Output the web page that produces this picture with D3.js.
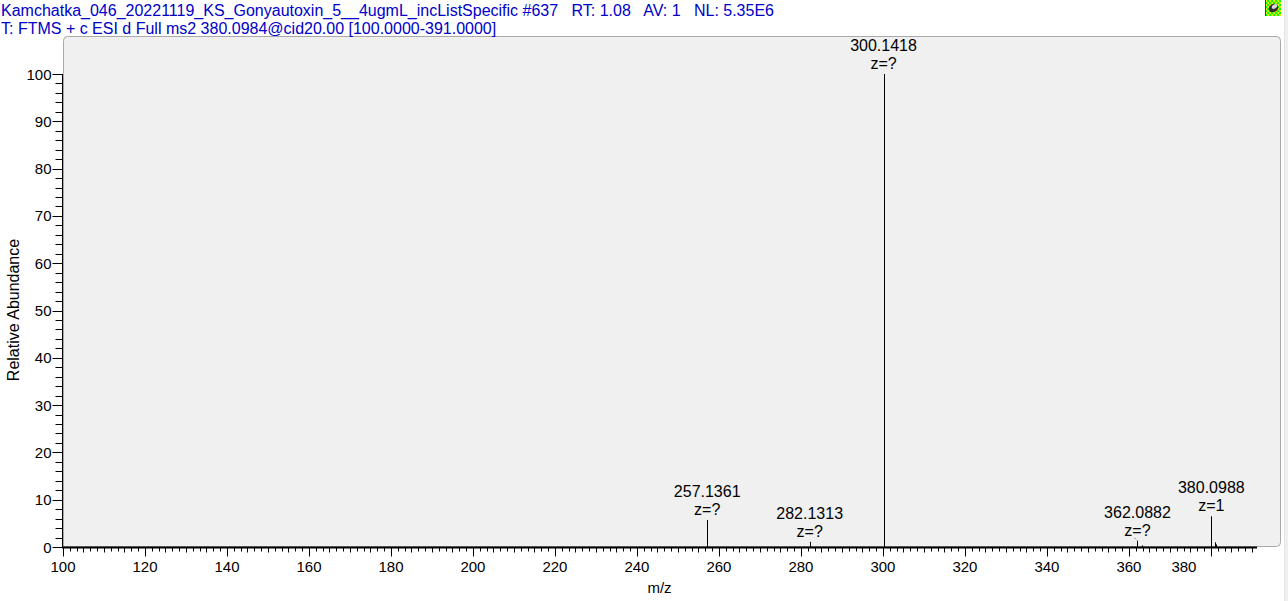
<!DOCTYPE html>
<html>
<head>
<meta charset="utf-8">
<script src="https://cdn.jsdelivr.net/npm/d3@7"></script>
<style>
  html, body { margin: 0; padding: 0; background: #ffffff; }
  svg { display: block; font-family: "Liberation Sans", Arial, sans-serif; }
</style>
</head>
<body>
<svg id="chart" width="1288" height="601"></svg>
<script>
// ---- data ----
const headerLines = [
  "Kamchatka_046_20221119_KS_Gonyautoxin_5__4ugmL_incListSpecific #637   RT: 1.08   AV: 1   NL: 5.35E6",
  "T: FTMS + c ESI d Full ms2 380.0984@cid20.00 [100.0000-391.0000]"
];
const peakMz = [257.1361, 282.1313, 300.1418, 362.0882, 380.0988];
const peakIntensity = [5.7, 1.1, 100, 1.3, 6.5];
const peakCharge = ["z=?", "z=?", "z=?", "z=?", "z=1"];
const minorMz = [363.09, 381.10, 381.30];
const minorIntensity = [0.35, 1.0, 0.55];
const xTickValues = [100, 120, 140, 160, 180, 200, 220, 240, 260, 280, 300, 320, 340, 360, 380];
const yTickValues = [0, 10, 20, 30, 40, 50, 60, 70, 80, 90, 100];
const xDomain = [100, 391];
const yDomain = [0, 100];
const xTitle = "m/z";
const yTitle = "Relative Abundance";

// ---- layout ----
const svg = d3.select("#chart");
const plotL = 63, plotR = 1256, plotT = 74, plotB = 547;
const x = d3.scaleLinear().domain(xDomain).range([plotL, plotR]);
const y = d3.scaleLinear().domain(yDomain).range([plotB, plotT]);
const ink = "#000000";

// right side strip
svg.append("rect").attr("x", 1284).attr("y", 0).attr("width", 4).attr("height", 601).attr("fill", "#f0f0f0");
svg.append("line").attr("x1", 1284.5).attr("x2", 1284.5).attr("y1", 0).attr("y2", 601).attr("stroke", "#e3e3e3");

// panel
svg.append("path")
  .attr("d", `M${plotL + 0.5},${plotB} L${plotL + 0.5},40.5 Q${plotL + 0.5},36.5 ${plotL + 4.5},36.5 L1276.5,36.5 Q1280.5,36.5 1280.5,40.5 L1280.5,542.5 Q1280.5,546.5 1276.5,546.5 L${plotL},546.5`)
  .attr("fill", "#f0f0f0").attr("stroke", "#a9a9a9").attr("stroke-width", 1);

// header
svg.selectAll("text.header").data(headerLines).join("text")
  .attr("class", "header")
  .attr("x", 1).attr("y", (d, i) => 16 + i * 17.5)
  .attr("fill", "#0000c8").attr("font-size", 16)
  .style("white-space", "pre")
  .text(d => d);

// icon
const icon = svg.append("g").attr("transform", "translate(1265,0)");
icon.append("rect").attr("x", 0).attr("y", 0).attr("width", 16).attr("height", 16).attr("fill", "#00ff00");
for (let i = 0; i < 8; i++) for (let j = 0; j < 8; j++) {
  if ((i + j) % 2 === 0) icon.append("rect").attr("x", i * 2).attr("y", j * 2).attr("width", 2).attr("height", 2).attr("fill", "#e8f000");
}
icon.append("line").attr("x1", 0.5).attr("x2", 0.5).attr("y1", 0).attr("y2", 16).attr("stroke", "#404040");
icon.append("ellipse").attr("cx", 8.5).attr("cy", 8).attr("rx", 5).attr("ry", 4)
  .attr("transform", "rotate(-30 8.5 8)").attr("fill", "#303030");
icon.append("ellipse").attr("cx", 9.5).attr("cy", 6.5).attr("rx", 3).attr("ry", 2)
  .attr("transform", "rotate(-30 9.5 6.5)").attr("fill", "#d8d8d8");

// y axis
const yMinor = d3.range(0, 100.001, 2);
const yAxis = svg.append("g").attr("transform", `translate(${plotL - 0.5},0)`);
yAxis.append("line").attr("x1", 0).attr("x2", 0).attr("y1", y(100)).attr("y2", plotB + 1).attr("stroke", ink);
yAxis.selectAll("line.minor").data(yMinor).join("line").attr("class", "minor")
  .attr("x1", -7).attr("x2", 0)
  .attr("y1", d => Math.round(y(d)) + 0.5).attr("y2", d => Math.round(y(d)) + 0.5)
  .attr("stroke", ink);
yAxis.selectAll("line.major").data(yTickValues).join("line").attr("class", "major")
  .attr("x1", -10).attr("x2", 0)
  .attr("y1", d => Math.round(y(d)) + 0.5).attr("y2", d => Math.round(y(d)) + 0.5)
  .attr("stroke", ink);
yAxis.selectAll("text").data(yTickValues).join("text")
  .attr("x", -11).attr("y", d => y(d) + 5.5)
  .attr("text-anchor", "end").attr("font-size", 15).attr("fill", ink)
  .text(d => d);

// x axis
const xMinor = d3.range(100, 391.2, 5 / 3);
const xMid = d3.range(100, 391.2, 5);
const xAxis = svg.append("g").attr("transform", `translate(0,${plotB + 0.5})`);
xAxis.append("line").attr("x1", plotL - 1).attr("x2", plotR + 1).attr("y1", 0).attr("y2", 0).attr("stroke", ink).attr("stroke-width", 2);
xAxis.selectAll("line.minor").data(xMinor).join("line").attr("class", "minor")
  .attr("x1", d => Math.round(x(d)) + 0.5).attr("x2", d => Math.round(x(d)) + 0.5)
  .attr("y1", 0).attr("y2", 4).attr("stroke", ink);
xAxis.selectAll("line.mid").data(xMid).join("line").attr("class", "mid")
  .attr("x1", d => Math.round(x(d)) + 0.5).attr("x2", d => Math.round(x(d)) + 0.5)
  .attr("y1", 0).attr("y2", 5).attr("stroke", ink);
xAxis.selectAll("line.major").data(xTickValues).join("line").attr("class", "major")
  .attr("x1", d => Math.round(x(d)) + 0.5).attr("x2", d => Math.round(x(d)) + 0.5)
  .attr("y1", 0).attr("y2", 9).attr("stroke", ink);
xAxis.selectAll("text").data(xTickValues).join("text")
  .attr("x", d => x(d) - (d === 380 ? 27 : 0)).attr("y", 24)
  .attr("text-anchor", "middle").attr("font-size", 15).attr("fill", ink)
  .text(d => d);

// axis titles
svg.append("text").attr("x", (plotL + plotR) / 2).attr("y", 593)
  .attr("text-anchor", "middle").attr("font-size", 15).attr("fill", ink).text(xTitle);
svg.append("text").attr("transform", "translate(19,310) rotate(-90)")
  .attr("text-anchor", "middle").attr("font-size", 16).attr("fill", ink).text(yTitle);

// minor peaks
svg.selectAll("line.minorpeak").data(minorMz).join("line").attr("class", "minorpeak")
  .attr("x1", d => Math.round(x(d)) + 0.5).attr("x2", d => Math.round(x(d)) + 0.5)
  .attr("y1", plotB).attr("y2", (d, i) => y(minorIntensity[i]))
  .attr("stroke", ink);

// main peaks
svg.selectAll("line.peak").data(peakMz).join("line").attr("class", "peak")
  .attr("x1", d => Math.round(x(d)) + 0.5).attr("x2", d => Math.round(x(d)) + 0.5)
  .attr("y1", plotB).attr("y2", (d, i) => y(peakIntensity[i]))
  .attr("stroke", ink);

// green marker near 362
svg.append("line")
  .attr("x1", x(peakMz[3]) - 3).attr("y1", y(peakIntensity[3]) - 3)
  .attr("x2", x(peakMz[3]) - 0.5).attr("y2", y(peakIntensity[3]) - 0.5)
  .attr("stroke", "#30b030").attr("stroke-dasharray", "1.5,1");

// peak labels
const lbl = svg.selectAll("g.plabel").data(peakMz).join("g").attr("class", "plabel");
lbl.append("text")
  .attr("x", d => x(d)).attr("y", (d, i) => y(peakIntensity[i]) - 23)
  .attr("text-anchor", "middle").attr("font-size", 16).attr("fill", ink)
  .text(d => d.toFixed(4));
lbl.append("text")
  .attr("x", d => x(d)).attr("y", (d, i) => y(peakIntensity[i]) - 5)
  .attr("text-anchor", "middle").attr("font-size", 16).attr("fill", ink)
  .text((d, i) => peakCharge[i]);
</script>
</body>
</html>
